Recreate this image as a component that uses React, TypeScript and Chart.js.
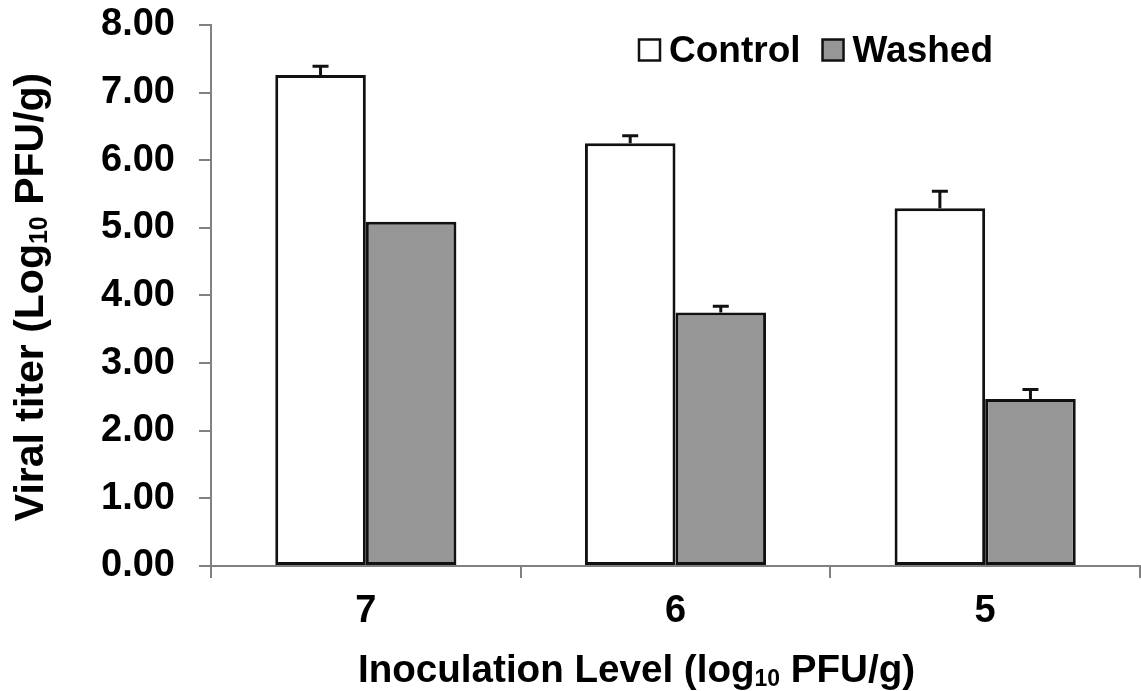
import React, { useEffect, useRef } from 'react';
import { Chart, registerables } from 'chart.js';

Chart.register(...registerables);

const categories = ['7', '6', '5'];
const seriesNames = ['Control', 'Washed'];
const controlValues = [7.26, 6.25, 5.29];
const controlErrors = [0.13, 0.11, 0.25];
const washedValues = [5.09, 3.75, 2.47];
const washedErrors = [0, 0.09, 0.14];
const yMin = 0;
const yMax = 8;
const yStep = 1;
const yTitleParts = [
  { text: 'Viral titer (Log', sub: false },
  { text: '10', sub: true },
  { text: ' PFU/g)', sub: false },
];
const xTitleParts = [
  { text: 'Inoculation Level (log', sub: false },
  { text: '10', sub: true },
  { text: ' PFU/g)', sub: false },
];

const FONT_FAMILY = '"Liberation Sans", Arial, sans-serif';
const TICK_SIZE = 38;
const seriesColors = ['#ffffff', '#969696'];
const errorsBySeries = [controlErrors, washedErrors];

type Part = { text: string; sub: boolean };

function partsWidth(ctx: CanvasRenderingContext2D, parts: Part[], size: number) {
  let w = 0;
  for (const p of parts) {
    ctx.font = `bold ${p.sub ? Math.round(size * 0.6) : size}px ${FONT_FAMILY}`;
    w += ctx.measureText(p.text).width;
  }
  return w;
}

function drawParts(ctx: CanvasRenderingContext2D, parts: Part[], size: number, x: number, baseline: number) {
  let cx = x;
  ctx.textBaseline = 'alphabetic';
  ctx.textAlign = 'left';
  for (const p of parts) {
    ctx.font = `bold ${p.sub ? Math.round(size * 0.6) : size}px ${FONT_FAMILY}`;
    ctx.fillText(p.text, cx, baseline + (p.sub ? 4 : 0));
    cx += ctx.measureText(p.text).width;
  }
}

const extrasPlugin = {
  id: 'extras',
  afterDatasetsDraw(chart: any) {
    const ctx: CanvasRenderingContext2D = chart.ctx;
    const yScale = chart.scales.y;
    ctx.save();
    ctx.strokeStyle = '#111111';
    ctx.lineWidth = 3;
    chart.data.datasets.forEach((ds: any, i: number) => {
      const meta = chart.getDatasetMeta(i);
      meta.data.forEach((el: any, j: number) => {
        const err = errorsBySeries[i][j];
        if (!err) return;
        const top = yScale.getPixelForValue(ds.data[j] + err);
        ctx.beginPath();
        ctx.moveTo(el.x, el.y);
        ctx.lineTo(el.x, top);
        ctx.moveTo(el.x - 8, top);
        ctx.lineTo(el.x + 8, top);
        ctx.stroke();
      });
    });
    ctx.restore();
  },
  afterDraw(chart: any) {
    const ctx: CanvasRenderingContext2D = chart.ctx;
    ctx.save();
    ctx.fillStyle = '#000000';
    // x title
    drawParts(ctx, xTitleParts, 38.6, 358, 682);
    // y title
    const ySize = 41;
    const yw = partsWidth(ctx, yTitleParts, ySize);
    ctx.save();
    ctx.translate(43, 297);
    ctx.rotate(-Math.PI / 2);
    drawParts(ctx, yTitleParts, ySize, -yw / 2, 0);
    ctx.restore();
    // legend
    let lx = 639;
    const sq = 21;
    const cy = 50;
    seriesNames.forEach((name, i) => {
      ctx.fillStyle = seriesColors[i];
      ctx.fillRect(lx, cy - sq / 2, sq, sq);
      ctx.strokeStyle = '#111111';
      ctx.lineWidth = 2.5;
      ctx.strokeRect(lx, cy - sq / 2, sq, sq);
      ctx.fillStyle = '#000000';
      ctx.textAlign = 'left';
      ctx.textBaseline = 'alphabetic';
      ctx.font = `bold 37px ${FONT_FAMILY}`;
      ctx.fillText(name, lx + sq + 9, 62);
      lx += sq + 9 + ctx.measureText(name).width + 22;
    });
    ctx.restore();
  },
};

export default function App() {
  const canvasRef = useRef<HTMLCanvasElement | null>(null);

  useEffect(() => {
    if (!canvasRef.current) return;
    const chart = new Chart(canvasRef.current, {
      type: 'bar',
      data: {
        labels: categories,
        datasets: [
          {
            label: seriesNames[0],
            data: controlValues,
            backgroundColor: seriesColors[0],
            borderColor: '#111111',
            borderWidth: 3,
            borderSkipped: false,
          },
          {
            label: seriesNames[1],
            data: washedValues,
            backgroundColor: seriesColors[1],
            borderColor: '#111111',
            borderWidth: 3,
            borderSkipped: false,
          },
        ],
      },
      options: {
        responsive: false,
        animation: false,
        devicePixelRatio: 1,
        layout: { autoPadding: false, padding: { top: 24, right: 1, bottom: 0, left: 0 } },
        datasets: {
          bar: { categoryPercentage: 0.585, barPercentage: 1 },
        },
        plugins: {
          legend: { display: false },
          tooltip: { enabled: false },
        },
        scales: {
          x: {
            type: 'category',
            offset: true,
            grid: {
              offset: true,
              drawOnChartArea: false,
              drawTicks: true,
              tickLength: 12,
              color: '#808080',
              lineWidth: 2,
            },
            border: { display: true, color: '#808080', width: 2 },
            ticks: {
              color: '#000000',
              padding: 11,
              font: { family: FONT_FAMILY, size: TICK_SIZE, weight: 'bold' },
            },
            afterFit: (scale: any) => {
              scale.height = 125;
            },
          },
          y: {
            min: yMin,
            max: yMax,
            ticks: {
              stepSize: yStep,
              color: '#000000',
              padding: 24,
              font: { family: FONT_FAMILY, size: TICK_SIZE, weight: 'bold', lineHeight: 0.05 },
              callback: (v: any) => Number(v).toFixed(2),
            },
            grid: {
              drawOnChartArea: false,
              drawTicks: true,
              tickLength: 12,
              color: '#808080',
              lineWidth: 2,
            },
            border: { display: true, color: '#808080', width: 2 },
            afterFit: (scale: any) => {
              scale.width = 211;
            },
          },
        },
      },
      plugins: [extrasPlugin],
    } as any);
    return () => chart.destroy();
  }, []);

  return (
    <div style={{ position: 'absolute', left: 0, top: 0, width: 1141, height: 691, background: '#ffffff' }}>
      <canvas ref={canvasRef} width={1141} height={691} style={{ display: 'block' }} />
    </div>
  );
}
